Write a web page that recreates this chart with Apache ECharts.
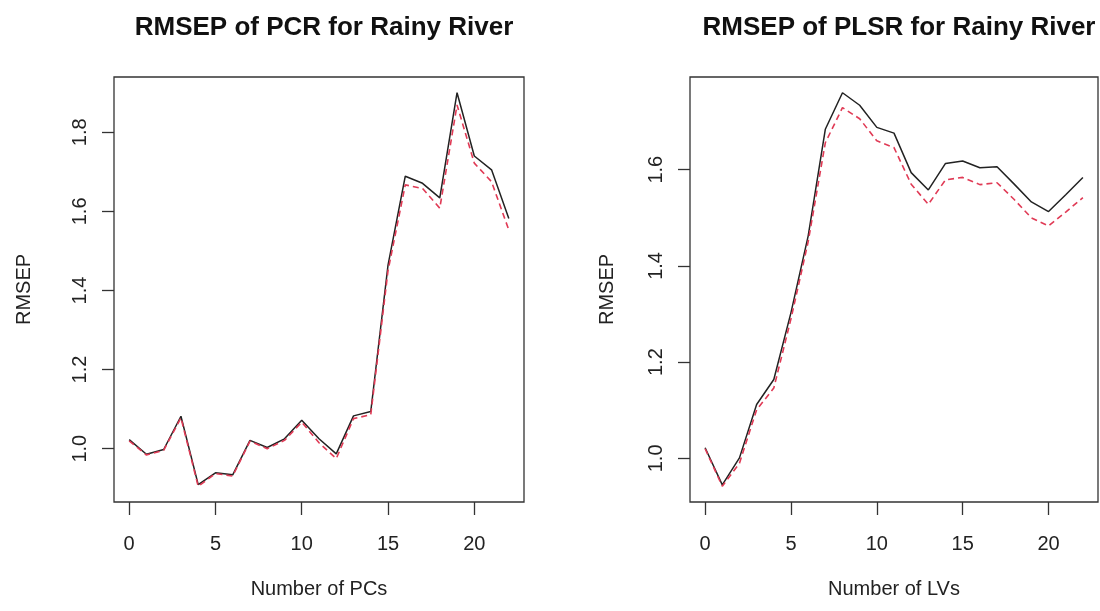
<!DOCTYPE html>
<html>
<head>
<meta charset="utf-8">
<script src="https://cdn.jsdelivr.net/npm/echarts@6/dist/echarts.min.js"></script>
<style>html,body{margin:0;padding:0;background:#fff;}#c{width:1100px;height:611px;}</style>
</head>
<body>
<div id="c"></div>
<script>
// number of components 0..22
const components = [0,1,2,3,4,5,6,7,8,9,10,11,12,13,14,15,16,17,18,19,20,21,22];
// PCR: CV (black solid) and adjCV (red dashed)
const pcrCV    = [1.023,0.986,0.998,1.082,0.909,0.939,0.934,1.021,1.003,1.025,1.072,1.025,0.987,1.083,1.094,1.464,1.689,1.671,1.634,1.900,1.740,1.705,1.582];
const pcrAdjCV = [1.020,0.984,0.996,1.078,0.905,0.937,0.931,1.019,1.000,1.021,1.067,1.015,0.975,1.076,1.086,1.450,1.667,1.658,1.608,1.869,1.722,1.675,1.553];
// PLSR: CV (black solid) and adjCV (red dashed)
const plsCV    = [1.022,0.945,1.001,1.112,1.164,1.303,1.462,1.684,1.760,1.734,1.688,1.676,1.594,1.558,1.613,1.618,1.604,1.606,1.570,1.533,1.513,1.548,1.584];
const plsAdjCV = [1.020,0.942,0.990,1.101,1.146,1.290,1.450,1.656,1.729,1.706,1.660,1.646,1.570,1.528,1.579,1.584,1.569,1.573,1.538,1.500,1.483,1.512,1.542];
// tick labels
const xTicks = [0,5,10,15,20];
const yTicksPCR = [1.0,1.2,1.4,1.6,1.8];
const yTicksPLS = [1.0,1.2,1.4,1.6];

const FONT = '"Liberation Sans", Arial, Helvetica, sans-serif';
function pad(arrs){
  let lo=Infinity, hi=-Infinity;
  arrs.forEach(a=>a.forEach(v=>{lo=Math.min(lo,v);hi=Math.max(hi,v);}));
  const d=(hi-lo)*0.04; return [lo-d, hi+d];
}
const xr = pad([components]);
const yrPCR = pad([pcrCV,pcrAdjCV]);
const yrPLS = pad([plsCV,plsAdjCV]);

function xAxis(idx, name){
  return {type:'value', gridIndex:idx, min:xr[0], max:xr[1], name:name,
    nameLocation:'middle', nameGap:77, nameTextStyle:{fontFamily:FONT,fontSize:20,color:'#222'},
    axisLine:{show:false, onZero:false}, splitLine:{show:false},
    axisTick:{show:true, inside:false, length:13, lineStyle:{color:'#333',width:1.3}, customValues:xTicks},
    axisLabel:{show:true, margin:32, fontFamily:FONT, fontSize:20, color:'#222', customValues:xTicks, formatter:v=>String(v)}};
}
function yAxis(idx, r, ticks, gap){
  return {type:'value', gridIndex:idx, min:r[0], max:r[1], name:'RMSEP',
    nameLocation:'middle', nameGap:gap, nameRotate:90, nameTextStyle:{fontFamily:FONT,fontSize:20,color:'#222'},
    axisLine:{show:false, onZero:false}, splitLine:{show:false},
    axisTick:{show:true, inside:false, length:12, lineStyle:{color:'#333',width:1.3}, customValues:ticks},
    axisLabel:{show:true, rotate:90, margin:24, fontFamily:FONT, fontSize:20, color:'#222', customValues:ticks, formatter:v=>v.toFixed(1)}};
}
function pairs(ys){ return components.map((x,i)=>[x, ys[i]]); }
function lineSeries(idx, ys, dashed){
  return {type:'line', xAxisIndex:idx, yAxisIndex:idx, data:pairs(ys), symbol:'none', silent:true,
    lineStyle: dashed ? {color:'#e03a55', width:1.6, type:[6,4]} : {color:'#222', width:1.5}, z: dashed?3:2};
}
const chart = echarts.init(document.getElementById('c'), null, {renderer:'canvas'});
chart.setOption({
  animation:false,
  backgroundColor:'#fff',
  title:[
    {text:'RMSEP of PCR for Rainy River', left:319, top:10, textAlign:'center', textStyle:{fontFamily:FONT, fontWeight:'bold', fontSize:26, color:'#111'}},
    {text:'RMSEP of PLSR for Rainy River', left:894, top:10, textAlign:'center', textStyle:{fontFamily:FONT, fontWeight:'bold', fontSize:26, color:'#111'}}
  ],
  grid:[
    {left:114, top:77, width:410, height:425, show:true, borderColor:'#333', borderWidth:1.3, backgroundColor:'transparent'},
    {left:690, top:77, width:408, height:425, show:true, borderColor:'#333', borderWidth:1.3, backgroundColor:'transparent'}
  ],
  xAxis:[xAxis(0,'Number of PCs'), xAxis(1,'Number of LVs')],
  yAxis:[yAxis(0,yrPCR,yTicksPCR,80), yAxis(1,yrPLS,yTicksPLS,73)],
  series:[
    lineSeries(0,pcrCV,false), lineSeries(0,pcrAdjCV,true),
    lineSeries(1,plsCV,false), lineSeries(1,plsAdjCV,true)
  ]
});
</script>
</body>
</html>
